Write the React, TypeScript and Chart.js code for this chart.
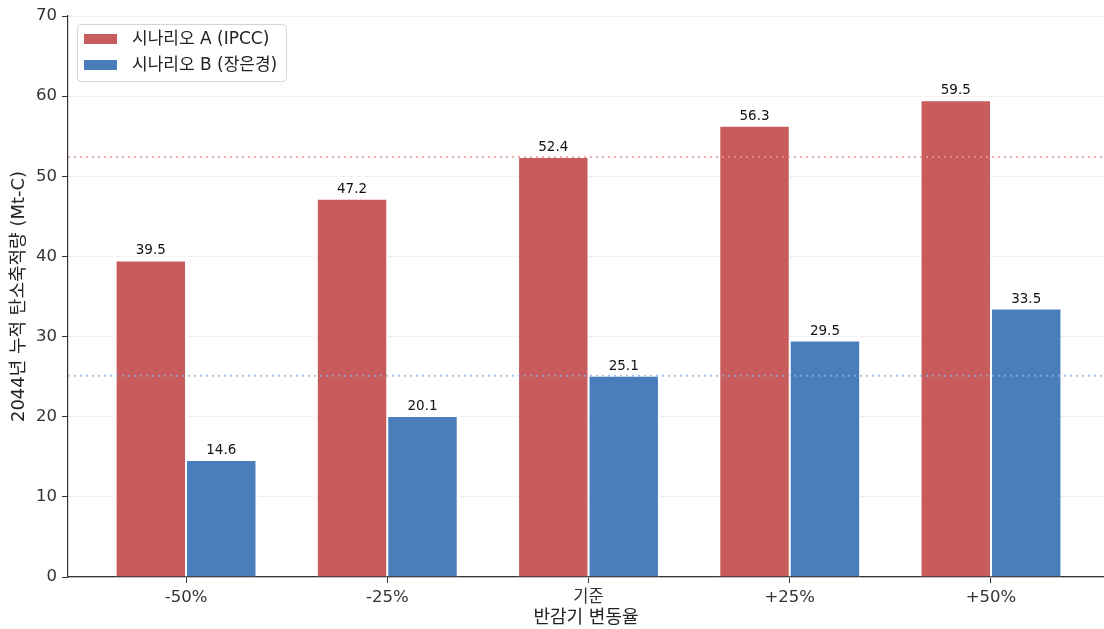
import React, { useEffect, useRef } from "react";
import { Chart, registerables } from "chart.js";

Chart.register(...registerables);

const categories = ["-50%", "-25%", "기준", "+25%", "+50%"];
const seriesA = [39.5, 47.2, 52.4, 56.3, 59.5];
const seriesB = [14.6, 20.1, 25.1, 29.5, 33.5];
const seriesNames = ["시나리오 A (IPCC)", "시나리오 B (장은경)"];
const seriesColors = ["#c85c5c", "#4a7dbb"];
const refValues = [52.4, 25.1];
const refColors = ["rgba(236,150,150,0.75)", "rgba(140,178,222,0.75)"];
const yTickValues = [0, 10, 20, 30, 40, 50, 60, 70];
const xTitle = "반감기 변동율";
const yTitle = "2044년 누적 탄소축적량 (Mt-C)";

const FONT = "'DejaVu Sans', 'Noto Sans CJK KR', sans-serif";

const overlayPlugin = {
  id: "overlay",
  afterDatasetsDraw(chart: any) {
    const { ctx, chartArea, scales } = chart;
    const y = scales.y;
    refValues.forEach((v, i) => {
      const py = y.getPixelForValue(v);
      ctx.save();
      ctx.strokeStyle = refColors[i];
      ctx.lineWidth = 2;
      ctx.setLineDash([2, 4]);
      ctx.beginPath();
      ctx.moveTo(chartArea.left, py);
      ctx.lineTo(chartArea.right, py);
      ctx.stroke();
      ctx.restore();
    });
    ctx.save();
    ctx.font = `13.5px ${FONT}`;
    ctx.fillStyle = "#111";
    ctx.textAlign = "center";
    ctx.textBaseline = "alphabetic";
    chart.data.datasets.forEach((ds: any, di: number) => {
      const meta = chart.getDatasetMeta(di);
      meta.data.forEach((bar: any, j: number) => {
        const v = ds.data[j].y;
        ctx.fillText(v.toFixed(1), bar.x, bar.y - 6);
      });
    });
    ctx.restore();
  },
  afterDraw(chart: any) {
    const { ctx } = chart;
    ctx.save();
    ctx.fillStyle = "rgba(255,255,255,0.85)";
    ctx.strokeStyle = "#d4d4d4";
    ctx.lineWidth = 1;
    ctx.beginPath();
    (ctx as any).roundRect(77.5, 24.5, 209, 57, 4);
    ctx.fill();
    ctx.stroke();
    const rows = [39, 65];
    seriesNames.forEach((name, i) => {
      ctx.fillStyle = seriesColors[i];
      ctx.fillRect(84, rows[i] - 5, 33, 10);
      ctx.fillStyle = "#222";
      ctx.font = `17px ${FONT}`;
      ctx.textAlign = "left";
      ctx.textBaseline = "middle";
      ctx.fillText(name, 132, rows[i] + 1);
    });
    ctx.restore();
  },
};

export default function App() {
  const ref = useRef<HTMLCanvasElement>(null);
  useEffect(() => {
    if (!ref.current) return;
    Chart.defaults.font.family = FONT;
    const chart = new Chart(ref.current, {
      type: "bar",
      data: {
        datasets: [
          {
            label: seriesNames[0],
            data: seriesA.map((v, i) => ({ x: i, y: v })),
            backgroundColor: seriesColors[0],
            borderColor: "#ffffff",
            borderWidth: 1,
          },
          {
            label: seriesNames[1],
            data: seriesB.map((v, i) => ({ x: i, y: v })),
            backgroundColor: seriesColors[1],
            borderColor: "#ffffff",
            borderWidth: 1,
          },
        ],
      } as any,
      options: {
        animation: false,
        responsive: false,
        devicePixelRatio: 1,
        datasets: { bar: { categoryPercentage: 0.7, barPercentage: 1.0 } },
        layout: { padding: { top: 16, left: 0, right: 0, bottom: 0 } },
        plugins: { legend: { display: false }, tooltip: { enabled: false } },
        scales: {
          x: {
            type: "linear",
            min: -0.5865,
            max: 4.5616,
            offset: false,
            afterBuildTicks: (scale: any) => {
              scale.ticks = categories.map((_, i) => ({ value: i }));
            },
            afterFit: (scale: any) => {
              scale.height = 52;
            },
            ticks: {
              autoSkip: false,
              maxRotation: 0,
              padding: 5,
              color: "#333",
              font: { size: 16.5, family: FONT },
              callback: (v: any) => categories[Math.round(Number(v))] ?? "",
            },
            grid: {
              offset: false,
              drawOnChartArea: false,
              drawTicks: true,
              tickLength: 6,
              tickColor: "#333",
              tickWidth: 1,
              tickBorderDash: [],
            },
            border: { display: true, color: "#333", width: 1.2 },
            title: {
              display: true,
              text: xTitle,
              color: "#222",
              font: { size: 18, family: FONT },
              padding: { top: 1, bottom: 0 },
            },
          } as any,
          y: {
            type: "linear",
            min: 0,
            max: 70,
            afterBuildTicks: (scale: any) => {
              scale.ticks = yTickValues.map((v) => ({ value: v }));
            },
            afterFit: (scale: any) => {
              scale.width = 68;
            },
            ticks: {
              padding: 5,
              color: "#333",
              font: { size: 16.5, family: FONT },
            },
            grid: {
              color: "#e4e4e4",
              lineWidth: 0.8,
              drawTicks: true,
              tickLength: 6,
              tickColor: "#333",
              tickWidth: 1,
              tickBorderDash: [],
            },
            border: { display: true, color: "#333", width: 1.2, dash: [5, 3] },
            title: {
              display: true,
              text: yTitle,
              color: "#222",
              font: { size: 18, family: FONT },
              padding: { top: 9, bottom: 0 },
            },
          } as any,
        },
      } as any,
      plugins: [overlayPlugin],
    });
    return () => chart.destroy();
  }, []);
  return (
    <div style={{ position: "absolute", left: 0, top: 0, width: 1104, height: 629, background: "#fff" }}>
      <canvas ref={ref} width={1104} height={629} style={{ display: "block" }} />
    </div>
  );
}
